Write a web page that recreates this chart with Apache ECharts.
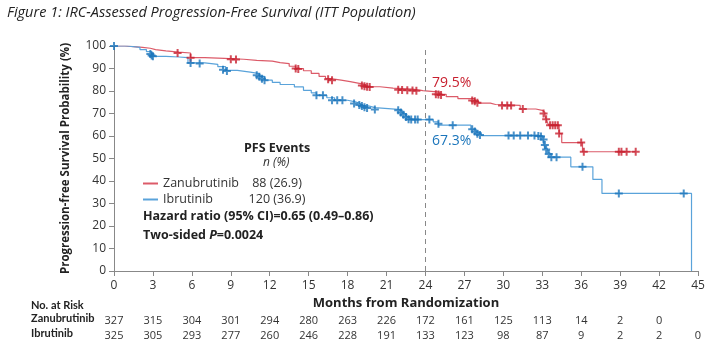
<!DOCTYPE html>
<html>
<head>
<meta charset="utf-8">
<script src="https://cdn.jsdelivr.net/npm/echarts@6/dist/echarts.min.js"></script>
<style>
  html, body { margin: 0; padding: 0; background: #fff; }
  #chart { width: 720px; height: 353px; }
</style>
</head>
<body>
<div id="chart"></div>
<script>
// Kaplan-Meier steps: [month, survival % after step]
const zanSteps = [
  [0, 100], [0.8, 99.7], [1.5, 99.4], [2.2, 99.0], [2.8, 98.4], [3.2, 97.8], [4.0, 97.3],
  [5.0, 96.9], [5.9, 94.8], [7.0, 94.5], [8.5, 94.1], [10.0, 93.6], [11.0, 93.3],
  [12.2, 92.6], [12.8, 92.2], [13.5, 91.0], [14.0, 90.0], [14.6, 89.0], [15.2, 87.8],
  [15.8, 86.5], [16.3, 85.5], [16.7, 84.8], [17.5, 84.2], [18.2, 83.5], [18.8, 82.8],
  [19.4, 81.9], [20.5, 81.3], [21.5, 80.8], [23.0, 80.2], [23.8, 79.5], [25.1, 78.5],
  [25.6, 77.5], [26.5, 76.6], [27.8, 75.5], [28.1, 74.6], [29.0, 74.0], [29.4, 73.6],
  [31.3, 72.0], [32.5, 71.4], [33.0, 70.6], [33.2, 69.0], [33.3, 67.5], [33.4, 66.0],
  [33.5, 64.8], [34.3, 61.1], [34.5, 57.1], [36.1, 53.0], [40.2, 53.0]
];
const zanCensored = [
  [4.9, 96.9], [5.9, 94.8], [9.0, 94.1], [9.4, 94.0], [14.0, 90.0], [14.2, 89.8],
  [16.5, 85.2], [16.8, 84.8], [19.1, 82.4], [19.3, 82.1], [19.5, 81.9], [19.7, 81.8],
  [21.9, 80.6], [22.2, 80.5], [22.6, 80.3], [23.0, 80.2], [23.3, 80.1], [24.8, 78.6],
  [25.0, 78.4], [25.2, 78.2], [27.6, 75.8], [27.8, 75.4], [28.0, 74.8], [29.9, 73.6],
  [30.3, 73.6], [30.6, 73.6], [31.5, 72.0], [33.1, 70.0], [33.3, 67.5], [33.6, 64.8],
  [33.8, 64.8], [34.0, 64.8], [34.2, 64.8], [34.3, 61.1], [36.0, 57.1], [36.2, 53.0],
  [38.9, 53.0], [39.1, 53.0], [39.5, 53.0], [40.2, 53.0]
];
const ibrSteps = [
  [0, 100], [1.0, 99.4], [2.0, 98.4], [2.5, 97.5], [2.9, 95.4], [4.0, 95.1], [5.0, 94.8],
  [5.7, 92.5], [7.0, 91.8], [8.0, 90.8], [8.6, 89.2], [9.5, 88.4], [10.5, 87.7],
  [11.2, 86.5], [11.6, 84.8], [12.2, 83.8], [12.8, 82.9], [13.9, 81.8], [14.6, 80.3],
  [15.2, 79.2], [15.6, 78.1], [16.4, 77.0], [17.0, 75.9], [18.0, 75.2], [18.6, 74.4],
  [19.0, 73.4], [19.6, 72.6], [20.1, 71.8], [21.9, 71.5], [22.2, 70.0], [22.5, 68.5],
  [22.8, 67.3], [24.6, 66.3], [25.0, 64.8], [27.5, 63.0], [27.9, 61.5], [28.3, 60.2],
  [33.0, 59.6], [33.1, 57.0], [33.2, 54.5], [33.4, 52.5], [33.6, 50.6], [35.2, 46.3],
  [36.9, 40.7], [37.6, 34.5], [44.5, 0]
];
const ibrCensored = [
  [0, 100], [2.8, 96.5], [2.9, 95.8], [3.0, 95.4], [5.9, 92.5], [6.6, 92.2], [8.4, 89.5],
  [8.7, 88.9], [11.0, 87.0], [11.2, 86.3], [11.4, 85.5], [11.6, 84.8], [15.6, 78.1],
  [16.1, 78.1], [16.8, 75.9], [17.2, 75.9], [17.6, 75.9], [18.5, 74.4], [18.9, 73.8],
  [19.1, 73.3], [19.3, 72.8], [19.5, 72.5], [20.1, 71.8], [21.9, 71.5], [22.1, 70.5],
  [22.3, 69.5], [22.5, 68.5], [22.7, 67.5], [22.9, 67.3], [23.2, 67.3], [23.4, 67.3],
  [24.3, 67.3], [25.0, 65.5], [26.1, 64.8], [27.6, 63.0], [27.8, 62.0], [28.0, 61.0],
  [28.2, 60.4], [30.4, 60.2], [30.8, 60.2], [31.3, 60.2], [31.9, 60.2], [32.4, 60.2],
  [32.7, 60.0], [32.9, 59.8], [33.1, 58.5], [33.2, 56.0], [33.3, 54.0], [33.5, 52.0],
  [33.7, 50.6], [34.1, 50.6], [36.1, 46.3], [38.9, 34.5], [43.9, 34.5]
];

const xTicks = [0, 3, 6, 9, 12, 15, 18, 21, 24, 27, 30, 33, 36, 39, 42, 45];
const zanAtRisk = [327, 315, 304, 301, 294, 280, 263, 226, 172, 161, 125, 113, 14, 2, 0];
const ibrAtRisk = [325, 305, 293, 277, 260, 246, 228, 191, 133, 123, 98, 87, 9, 2, 2, 0];
const eventCounts = { Zanubrutinib: '88 (26.9)', Ibrutinib: '120 (36.9)' };

const red = '#c8202f';
const redLine = '#dc5b69';
const blue = '#1b75bb';
const blueLine = '#5aa3da';
const font = 'Open Sans';
const plus = 'path://M3,0H5V3H8V5H5V8H3V5H0V3H3Z';

const chart = echarts.init(document.getElementById('chart'));

const riskAxis = (arr, offset) => ({
  type: 'value', min: 0, max: 45, interval: 3, position: 'bottom', offset,
  axisLine: { show: false }, axisTick: { show: false }, splitLine: { show: false },
  axisLabel: {
    fontFamily: font, fontSize: 11, color: '#333', margin: 8,
    formatter: v => { const i = xTicks.indexOf(v); return i >= 0 && arr[i] !== undefined ? String(arr[i]) : ''; }
  }
});

const option = {
  animation: false,
  textStyle: { fontFamily: font },
  grid: { left: 114, right: 22, top: 46, bottom: 82 },
  xAxis: [
    {
      type: 'value', min: 0, max: 45, interval: 3,
      name: 'Months from Randomization', nameLocation: 'middle', nameGap: 24,
      nameTextStyle: { fontFamily: font, fontSize: 13, fontWeight: 'bold', color: '#222' },
      axisLine: { lineStyle: { color: '#888' } },
      axisTick: { length: 5, lineStyle: { color: '#888' } },
      splitLine: { show: false },
      axisLabel: { fontFamily: font, fontSize: 12, color: '#333', margin: 9 }
    },
    riskAxis(zanAtRisk, 36),
    riskAxis(ibrAtRisk, 51)
  ],
  yAxis: {
    type: 'value', min: 0, max: 100, interval: 10,
    name: 'Progression-free Survival Probability (%)', nameLocation: 'middle', nameGap: 42,
    nameTextStyle: { fontFamily: font, fontSize: 11.5, fontWeight: 'bold', color: '#222' },
    axisLine: { show: true, lineStyle: { color: '#888' } },
    axisTick: { show: true, length: 5, lineStyle: { color: '#888' } },
    splitLine: { show: false },
    axisLabel: { fontFamily: font, fontSize: 12, color: '#333', margin: 8 }
  },
  legend: {
    data: ['Zanubrutinib', 'Ibrutinib'],
    orient: 'vertical', left: 138, top: 172, itemGap: 3,
    icon: 'rect', itemWidth: 15, itemHeight: 2,
    formatter: name => `{n|${name}}{c|${eventCounts[name]}}`,
    textStyle: {
      fontFamily: font, fontSize: 12.5, color: '#333',
      rich: {
        n: { width: 84, fontFamily: font, fontSize: 12.5, color: '#333' },
        c: { width: 60, align: 'center', fontFamily: font, fontSize: 12.5, color: '#333' }
      }
    }
  },
  graphic: [
    { type: 'text', left: 7, top: 5, style: { text: 'Figure 1: IRC-Assessed Progression-Free Survival (ITT Population)', font: 'italic 14.5px "Open Sans"', fill: '#222' } },
    { type: 'text', left: 244, top: 142, style: { text: 'PFS Events', font: 'bold 12.5px "Open Sans"', fill: '#222' } },
    { type: 'text', left: 263, top: 157, style: { text: 'n (%)', font: 'italic 12px "Open Sans"', fill: '#333' } },
    { type: 'text', left: 143, top: 210, style: { text: 'Hazard ratio (95% CI)=0.65 (0.49\u20130.86)', font: 'bold 12.5px "Open Sans"', fill: '#222' } },
    {
      type: 'text', left: 143, top: 229,
      style: {
        text: '{b|Two-sided }{i|P}{b|=0.0024}',
        rich: {
          b: { font: 'bold 12.5px "Open Sans"', fill: '#222' },
          i: { font: 'italic bold 12.5px "Open Sans"', fill: '#222' }
        }
      }
    },
    { type: 'text', left: 432, top: 76, style: { text: '79.5%', font: '14px "Open Sans"', fill: red } },
    { type: 'text', left: 432, top: 134, style: { text: '67.3%', font: '14px "Open Sans"', fill: blue } },
    { type: 'text', left: 31, top: 300, style: { text: 'No. at Risk', font: 'bold 11px Lato', fill: '#222' } },
    { type: 'text', left: 31, top: 313, style: { text: 'Zanubrutinib', font: 'bold 11px Lato', fill: '#222' } },
    { type: 'text', left: 31, top: 328, style: { text: 'Ibrutinib', font: 'bold 11px Lato', fill: '#222' } }
  ],
  series: [
    {
      name: 'Zanubrutinib', type: 'line', step: 'end', showSymbol: false,
      data: zanSteps, color: redLine, lineStyle: { width: 1.2, color: redLine }, z: 3,
      markLine: {
        silent: true, symbol: 'none', label: { show: false },
        lineStyle: { color: '#888', type: [5, 4], width: 1 },
        data: [{ xAxis: 24 }]
      }
    },
    {
      name: 'Ibrutinib', type: 'line', step: 'end', showSymbol: false,
      data: ibrSteps, color: blueLine, lineStyle: { width: 1.2, color: blueLine }, z: 3
    },
    {
      name: 'Zanubrutinib censored', type: 'scatter', data: zanCensored,
      symbol: plus, symbolSize: 8, itemStyle: { color: red }, z: 4
    },
    {
      name: 'Ibrutinib censored', type: 'scatter', data: ibrCensored,
      symbol: plus, symbolSize: 8, itemStyle: { color: blue }, z: 4
    }
  ]
};

chart.setOption(option);
</script>
</body>
</html>
